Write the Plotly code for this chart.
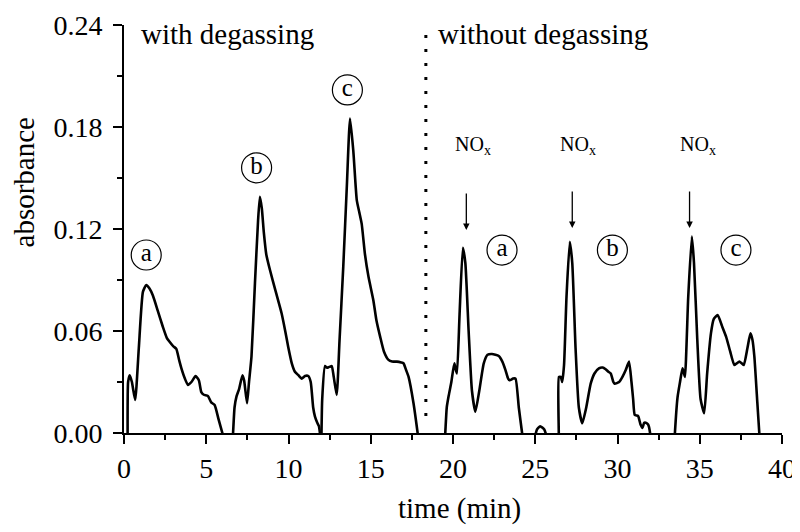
import plotly.graph_objects as go

# --- data (time in min, absorbance) ---
seg1_t = [0.22, 0.25, 0.35, 0.48, 0.68, 0.9, 1.15, 1.35, 1.55, 1.75, 2.05, 2.36, 2.6, 2.77, 3.0, 3.18,
          3.35, 3.49, 3.7, 3.89, 4.1, 4.35, 4.55, 4.7, 4.85, 5.1, 5.3, 5.51, 5.75, 5.98, 6.1]
seg1_a = [-0.004, 0.03, 0.034, 0.03, 0.0194, 0.05, 0.083, 0.087, 0.085, 0.081, 0.072, 0.0625, 0.056, 0.0537,
          0.051, 0.0495, 0.043, 0.038, 0.032, 0.0282, 0.03, 0.0335, 0.031, 0.024, 0.0225, 0.0218, 0.018,
          0.0165, 0.008, 0.0, -0.004]

seg2_t = [6.6, 6.63, 6.72, 6.84, 7.0, 7.2, 7.3, 7.48, 7.6, 7.75, 7.96, 8.15, 8.26, 8.38, 8.5, 8.65, 8.87,
          9.2, 9.58, 9.8, 9.98, 10.2, 10.39, 10.6, 10.8, 11.0, 11.2, 11.35, 11.5, 11.61, 11.75, 11.85, 11.91, 11.95]
seg2_a = [-0.004, 0.0, 0.015, 0.0215, 0.026, 0.034, 0.031, 0.0175, 0.03, 0.045, 0.088, 0.125, 0.139, 0.132,
          0.118, 0.105, 0.096, 0.084, 0.0704, 0.06, 0.0508, 0.041, 0.036, 0.034, 0.032, 0.0335, 0.0335, 0.03,
          0.015, 0.0096, 0.006, 0.004, 0.0, -0.004]

seg3_t = [12.0, 12.05, 12.22, 12.32, 12.42, 12.52, 12.63, 12.75, 12.93, 13.1, 13.33, 13.55, 13.74, 13.94,
          14.15, 14.3, 14.45, 14.65, 14.86, 15.16, 15.35, 15.57, 15.8, 16.08, 16.3, 16.59, 16.85, 16.99,
          17.15, 17.3, 17.6, 17.85, 17.9]
seg3_a = [-0.004, 0.02, 0.0394, 0.0385, 0.0386, 0.039, 0.0394, 0.033, 0.0224, 0.054, 0.098, 0.146, 0.185,
          0.166, 0.137, 0.13, 0.123, 0.105, 0.092, 0.078, 0.066, 0.0567, 0.048, 0.043, 0.042, 0.042, 0.0415,
          0.041, 0.037, 0.033, 0.0175, 0.0, -0.004]

seg4_t = [19.5, 19.53, 19.62, 19.74, 19.9, 20.08, 20.15, 20.24, 20.4, 20.6, 20.75, 20.95, 21.15, 21.36,
          21.6, 21.87, 22.1, 22.37, 22.78, 23.0, 23.19, 23.35, 23.45, 23.65, 23.8, 24.0, 24.2, 24.25]
seg4_a = [-0.004, 0.0, 0.015, 0.022, 0.03, 0.041, 0.038, 0.035, 0.07, 0.109, 0.1, 0.06, 0.025, 0.0125,
          0.025, 0.041, 0.046, 0.0465, 0.0453, 0.042, 0.037, 0.032, 0.031, 0.032, 0.032, 0.015, 0.0, -0.004]

bump_t = [24.95, 25.1, 25.3, 25.55, 25.75]
bump_a = [-0.004, 0.002, 0.004, 0.002, -0.004]

seg5_t = [26.42, 26.43, 26.44, 26.55, 26.64, 26.75, 26.9, 27.1, 27.25, 27.45, 27.65, 27.86, 28.1, 28.37,
          28.6, 28.87, 29.1, 29.28, 29.45, 29.59, 29.75, 29.83, 30.1, 30.3, 30.5, 30.7, 30.85, 30.95, 31.05,
          31.25, 31.4, 31.52, 31.62, 31.72, 31.86, 31.98, 32.0]
seg5_a = [-0.004, 0.0, 0.033, 0.033, 0.03, 0.04, 0.08, 0.1125, 0.1, 0.05, 0.015, 0.0057, 0.015, 0.029,
          0.035, 0.038, 0.0385, 0.0375, 0.036, 0.035, 0.03, 0.029, 0.03, 0.033, 0.037, 0.042, 0.03, 0.02,
          0.0106, 0.01, 0.005, 0.003, 0.006, 0.006, 0.005, 0.0, -0.004]

seg6_t = [33.47, 33.49, 33.65, 33.8, 33.95, 34.02, 34.1, 34.3, 34.52, 34.65, 34.85, 35.05, 35.27, 35.45,
          35.68, 35.85, 36.09, 36.35, 36.6, 36.85, 37.1, 37.25, 37.41, 37.55, 37.68, 37.9, 38.08, 38.2,
          38.32, 38.5, 38.62, 38.65]
seg6_a = [-0.004, 0.0, 0.021, 0.03, 0.038, 0.036, 0.033, 0.08, 0.1155, 0.1, 0.055, 0.02, 0.0116, 0.035,
          0.0586, 0.067, 0.0694, 0.063, 0.0567, 0.048, 0.04, 0.041, 0.042, 0.041, 0.04, 0.05, 0.0586, 0.055,
          0.045, 0.018, 0.0, -0.004]

# peak labels (circled letters)
peak_labels = ["a", "b", "c", "a", "b", "c"]
peak_label_t = [1.35, 8.06, 13.58, 22.98, 29.69, 37.2]
peak_label_a = [0.1047, 0.156, 0.2018, 0.1076, 0.1076, 0.1076]

# NOx arrows: tip positions and label positions
nox_t = [20.81, 27.25, 34.38]
nox_a = [0.1194, 0.1206, 0.1206]
nox_label_t = [21.24, 27.57, 34.87]
nox_label_a = 0.169

divider_t = 18.35

FONT = "Liberation Serif, Times New Roman, serif"

segments = [(seg1_t, seg1_a), (seg2_t, seg2_a), (seg3_t, seg3_a), (seg4_t, seg4_a),
            (bump_t, bump_a), (seg5_t, seg5_a), (seg6_t, seg6_a)]

fig = go.Figure()
for ts, vals in segments:
    fig.add_trace(go.Scatter(x=ts, y=vals, mode="lines",
                             line=dict(color="black", width=2.6, shape="spline", smoothing=0.5),
                             showlegend=False, hoverinfo="skip"))

# dotted divider
fig.add_trace(go.Scatter(x=[divider_t, divider_t], y=[0.01, 0.238], mode="lines",
                         line=dict(color="black", width=3, dash="3px,11px"),
                         showlegend=False, hoverinfo="skip"))

# circled letters
fig.add_trace(go.Scatter(x=peak_label_t, y=peak_label_a, mode="markers+text", text=peak_labels,
                         textposition="middle center",
                         textfont=dict(family=FONT, size=25, color="black"),
                         marker=dict(symbol="circle-open", size=30, color="black", line=dict(width=1.2)),
                         showlegend=False, hoverinfo="skip", cliponaxis=False))

annotations = [
    dict(x=0.94, y=0.235, xref="x", yref="y", text="with degassing", showarrow=False,
         xanchor="left", yanchor="middle", font=dict(family=FONT, size=29)),
    dict(x=18.95, y=0.235, xref="x", yref="y", text="without degassing", showarrow=False,
         xanchor="left", yanchor="middle", font=dict(family=FONT, size=29)),
    dict(x=-0.1514, y=0.615, xref="paper", yref="paper", text="absorbance", showarrow=False,
         textangle=-90, xanchor="center", yanchor="middle", font=dict(family=FONT, size=29)),
    dict(x=0.51, y=-0.185, xref="paper", yref="paper", text="time (min)", showarrow=False,
         xanchor="center", yanchor="middle", font=dict(family=FONT, size=29)),
]
for tt, aa in zip(nox_t, nox_a):
    annotations.append(dict(x=tt, y=aa, xref="x", yref="y", text="", showarrow=True,
                            ax=0, ay=-38, arrowhead=2, arrowsize=1, arrowwidth=1.3,
                            arrowcolor="black"))
for tt in nox_label_t:
    annotations.append(dict(x=tt, y=nox_label_a, xref="x", yref="y", text="NO<sub>x</sub>",
                            showarrow=False, xanchor="center", yanchor="middle",
                            font=dict(family=FONT, size=20)))

axis_common = dict(showline=True, linecolor="black", linewidth=2, ticks="outside", ticklen=9,
                   tickwidth=2, tickcolor="black", showgrid=False, zeroline=False, automargin=False,
                   tickfont=dict(family=FONT, size=28, color="black"))

# the page body adds an 8px offset, so the figure is 8px smaller than the window
fig.update_layout(
    width=792, height=524,
    margin=dict(l=116, r=18, t=17, b=99),
    paper_bgcolor="white", plot_bgcolor="white",
    font=dict(family=FONT, color="black"),
    annotations=annotations,
    xaxis=dict(range=[0, 40], tickvals=[0, 5, 10, 15, 20, 25, 30, 35, 40],
               minor=dict(dtick=2.5, ticks="outside", ticklen=5, tickwidth=2, tickcolor="black"),
               **axis_common),
    yaxis=dict(range=[0, 0.24], dtick=0.06, tick0=0, tickformat=".2f", ticklabelstandoff=5,
               minor=dict(dtick=0.03, ticks="outside", ticklen=5, tickwidth=2, tickcolor="black"),
               **axis_common),
)

fig.write_html("out.html")
